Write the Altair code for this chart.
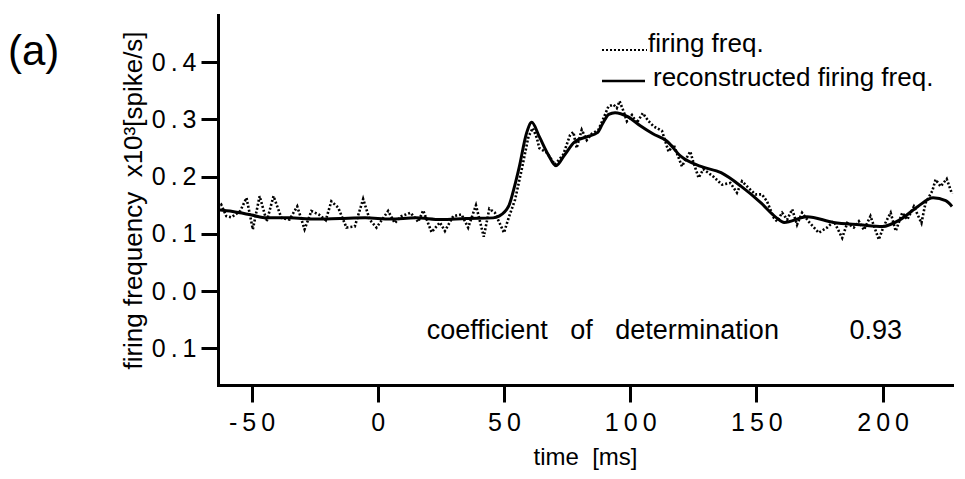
import altair as alt
import pandas as pd

# ---------------- data ----------------
time_raw = [-63.3, -62, -60, -58, -54.5, -52, -49.5, -46.8, -44, -41.3, -38.2, -35, -31.9, -29,
            -26.3, -23.4, -20.6, -18.4, -15.7, -12.4, -9.1, -5.8, -3.2, -0.5, 4.1, 6.7, 9.4, 13,
            16, 18, 21.3, 24.6, 26.6, 29.9, 33.2, 35.8, 38.9, 42, 44.2, 46.4, 50, 52, 54.4, 57,
            59.7, 61.4, 63, 64, 67, 70.2, 73.5, 76.2, 77.5, 78.8, 80.8, 82.8, 84.8, 87.4, 89.4,
            91.4, 93.4, 94.7, 95.8, 97.4, 98.7, 100.7, 102.6, 105, 107.3, 109.3, 112.6, 115.2,
            117.2, 120.5, 123.8, 125, 127.1, 129, 133, 136.4, 139.7, 142.3, 144.3, 147, 149.6,
            152.2, 154.2, 156.9, 158.2, 160.2, 162.2, 164.2, 166.1, 168.1, 171, 174.7, 178,
            180.7, 184, 186, 188.6, 190.6, 192.6, 195.2, 198.5, 200.5, 203.2, 205.2, 207.8,
            209.8, 212.4, 215.4, 217, 219.7, 221, 223, 225.4, 227.5]
freq_raw = [0.145, 0.151, 0.131, 0.129, 0.140, 0.163, 0.108, 0.166, 0.122, 0.166, 0.128, 0.125,
            0.148, 0.108, 0.140, 0.134, 0.124, 0.157, 0.146, 0.111, 0.113, 0.161, 0.125, 0.111,
            0.140, 0.119, 0.131, 0.137, 0.121, 0.141, 0.103, 0.120, 0.105, 0.131, 0.134, 0.111,
            0.150, 0.095, 0.144, 0.137, 0.102, 0.130, 0.160, 0.212, 0.270, 0.285, 0.268, 0.250,
            0.242, 0.221, 0.239, 0.273, 0.278, 0.250, 0.282, 0.264, 0.275, 0.282, 0.302, 0.323,
            0.326, 0.320, 0.332, 0.314, 0.297, 0.308, 0.294, 0.311, 0.297, 0.288, 0.280, 0.244,
            0.256, 0.218, 0.244, 0.226, 0.198, 0.213, 0.200, 0.186, 0.189, 0.172, 0.192, 0.180,
            0.169, 0.169, 0.157, 0.128, 0.122, 0.137, 0.125, 0.143, 0.116, 0.137, 0.120, 0.102,
            0.111, 0.122, 0.093, 0.119, 0.111, 0.122, 0.107, 0.131, 0.090, 0.114, 0.137, 0.105,
            0.137, 0.125, 0.148, 0.119, 0.154, 0.175, 0.195, 0.183, 0.196, 0.170]

time_rec = [-63.3, -57.5, -50, -44, -35, -25, -15, -5, 5, 15, 25, 35, 45.7, 48, 52, 54, 56, 59,
            61, 64, 67.6, 70.6, 74, 78, 83, 87, 89, 91.5, 94, 99, 104, 109, 114.6, 120, 128, 136,
            144, 151.6, 158, 161, 170, 180.6, 191, 200, 207, 214, 220, 225, 227.5]
freq_rec = [0.142, 0.139, 0.133, 0.128, 0.128, 0.126, 0.127, 0.128, 0.126, 0.128, 0.125, 0.127,
            0.128, 0.131, 0.150, 0.180, 0.216, 0.277, 0.295, 0.270, 0.238, 0.219, 0.238, 0.261,
            0.270, 0.277, 0.292, 0.309, 0.312, 0.305, 0.289, 0.275, 0.262, 0.236, 0.218, 0.207,
            0.183, 0.155, 0.128, 0.120, 0.130, 0.120, 0.116, 0.113, 0.125, 0.148, 0.163, 0.158,
            0.148]

series_names = ["firing freq.", "reconstructed firing freq."]
x_ticks = [-50, 0, 50, 100, 150, 200]
x_tick_labels = ["-50", "0", "50", "100", "150", "200"]
y_ticks = [-0.1, 0.0, 0.1, 0.2, 0.3, 0.4]
y_tick_labels = ["0.1", "0.0", "0.1", "0.2", "0.3", "0.4"]
panel_label = "(a)"
NB = "\u00a0"
x_title = f"time{NB}{NB}[ms]"
y_title = f"firing{NB}frequency{NB}{NB}x10\u00b3[spike/s]"
coef_text = f"coefficient{NB}{NB}{NB}of{NB}{NB}{NB}determination"
coef_value = "0.93"

FONT = "Liberation Sans"
W, H = 734, 370


def spaced(s):
    return "\u2009".join(list(s))


def label_expr(vals, labels):
    expr = "''"
    for v, lab in reversed(list(zip(vals, labels))):
        expr = f"abs(datum.value - ({v})) < 1e-6 ? '{spaced(lab)}' : " + expr
    return expr


raw_df = pd.DataFrame({"t": time_raw, "f": freq_raw})
rec_df = pd.DataFrame({"t": time_rec, "f": freq_rec})

x_scale = alt.Scale(domain=[-63.3, 227.5], nice=False, zero=False)
y_scale = alt.Scale(domain=[-0.1642, 0.4827], nice=False, zero=False)

common_axis = dict(
    labelFont=FONT, labelColor="black", labelFontSize=25, labelOverlap=False,
    labelFlush=False, tickSize=17, tickWidth=3, tickColor="black",
    domainWidth=3, domainColor="black", domainCap="square", grid=False,
    titleFont=FONT, titleFontWeight="normal", titleColor="black",
)

x_axis = alt.Axis(values=x_ticks, labelExpr=label_expr(x_ticks, x_tick_labels),
                  labelPadding=8, title=x_title, titleX=W / 2, titleY=79, titleFontSize=24,
                  titleBaseline="alphabetic", titleAlign="center", **common_axis)
y_axis = alt.Axis(values=y_ticks, labelExpr=label_expr(y_ticks, y_tick_labels),
                  labelPadding=5, title=y_title, titleAngle=-90, titleX=-85, titleY=H / 2,
                  titleFontSize=26, titleBaseline="middle", titleAlign="center", **common_axis)

raw_line = alt.Chart(raw_df).mark_line(
    color="black", strokeWidth=2.6, strokeDash=[2, 2]
).encode(
    x=alt.X("t:Q", scale=x_scale, axis=x_axis),
    y=alt.Y("f:Q", scale=y_scale, axis=y_axis),
)

rec_line = alt.Chart(rec_df).mark_line(
    color="black", strokeWidth=3, interpolate="monotone"
).encode(
    x=alt.X("t:Q", scale=x_scale, axis=x_axis),
    y=alt.Y("f:Q", scale=y_scale, axis=y_axis),
)

one = pd.DataFrame({"k": [0]})

leg_rule1 = alt.Chart(one).mark_rule(color="black", strokeWidth=2.2, strokeDash=[2, 2]).encode(
    x=alt.value(384), x2=alt.value(429), y=alt.value(35))
leg_rule2 = alt.Chart(one).mark_rule(color="black", strokeWidth=2.5).encode(
    x=alt.value(384), x2=alt.value(427), y=alt.value(66))
leg_text1 = alt.Chart(one).mark_text(
    font=FONT, fontSize=26, align="left", baseline="alphabetic", color="black"
).encode(x=alt.value(430), y=alt.value(37), text=alt.value(series_names[0]))
leg_text2 = alt.Chart(one).mark_text(
    font=FONT, fontSize=26, align="left", baseline="alphabetic", color="black"
).encode(x=alt.value(435), y=alt.value(70.5), text=alt.value(series_names[1]))

coef1 = alt.Chart(one).mark_text(
    font=FONT, fontSize=27, align="left", baseline="alphabetic", color="black"
).encode(x=alt.value(208.7), y=alt.value(324.3), text=alt.value(coef_text))
coef2 = alt.Chart(one).mark_text(
    font=FONT, fontSize=27, align="right", baseline="alphabetic", color="black"
).encode(x=alt.value(684), y=alt.value(324.3), text=alt.value(coef_value))

panel = alt.Chart(one).mark_text(
    font=FONT, fontSize=42, align="left", baseline="alphabetic", color="black"
).encode(x=alt.value(-210), y=alt.value(49.5), text=alt.value(panel_label))

chart = alt.layer(
    raw_line, rec_line, leg_rule1, leg_rule2, leg_text1, leg_text2, coef1, coef2, panel
).properties(
    width=W, height=H, autosize="none",
    padding={"left": 218, "top": 15, "right": 13, "bottom": 94},
    background="white",
).configure_view(stroke=None)

chart.save("out.html", embed_options={"renderer": "svg", "actions": False})
